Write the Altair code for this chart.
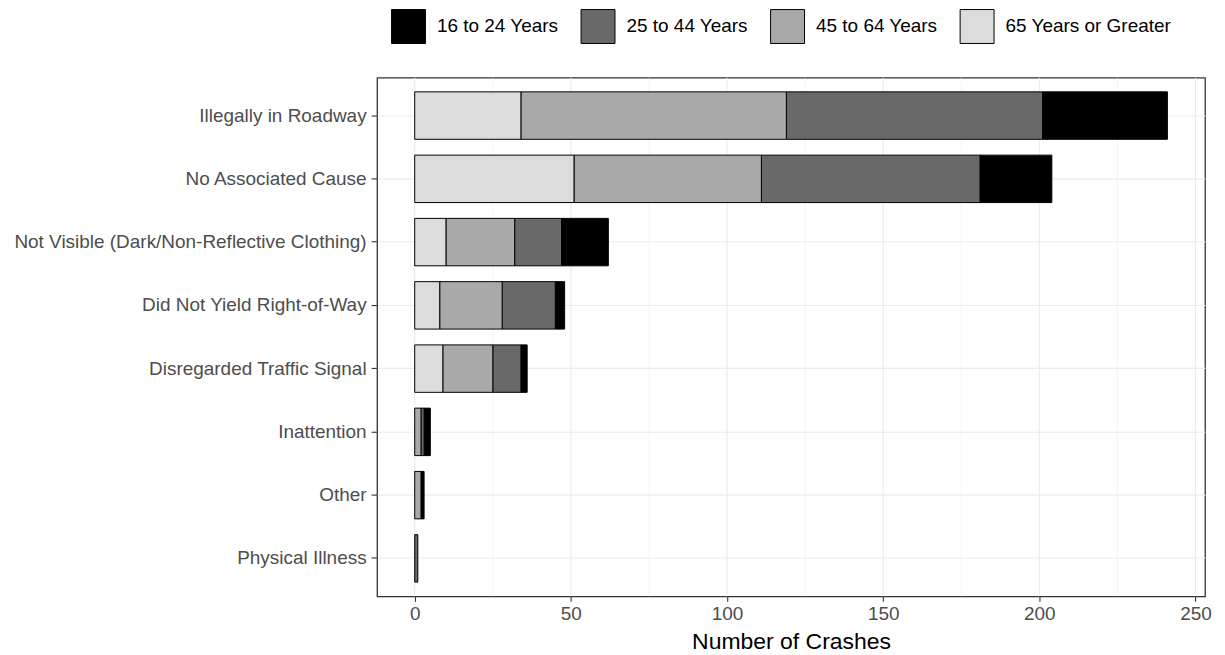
import altair as alt
import pandas as pd

causes = [
    "Illegally in Roadway",
    "No Associated Cause",
    "Not Visible (Dark/Non-Reflective Clothing)",
    "Did Not Yield Right-of-Way",
    "Disregarded Traffic Signal",
    "Inattention",
    "Other",
    "Physical Illness",
]
age_groups = ["16 to 24 Years", "25 to 44 Years", "45 to 64 Years", "65 Years or Greater"]
age_colors = ["#000000", "#696969", "#a9a9a9", "#dcdcdc"]

age_16_24 = [40, 23, 15, 3, 2, 2, 1, 0]
age_25_44 = [82, 70, 15, 17, 9, 1, 0, 1]
age_45_64 = [85, 60, 22, 20, 16, 2, 2, 0]
age_65_up = [34, 51, 10, 8, 9, 0, 0, 0]

major_ticks = [0, 50, 100, 150, 200, 250]
minor_ticks = [25, 75, 125, 175, 225]

series = {
    "16 to 24 Years": age_16_24,
    "25 to 44 Years": age_25_44,
    "45 to 64 Years": age_45_64,
    "65 Years or Greater": age_65_up,
}
stack_rank = {"65 Years or Greater": 0, "45 to 64 Years": 1, "25 to 44 Years": 2, "16 to 24 Years": 3}

rows = []
for age, vals in series.items():
    for c, v in zip(causes, vals):
        if v > 0:
            rows.append({"Cause": c, "Age": age, "Count": v, "rank": stack_rank[age]})
df = pd.DataFrame(rows)

totals = [a + b + c + d for a, b, c, d in zip(age_16_24, age_25_44, age_45_64, age_65_up)]
tmax = max(totals)
xscale = alt.Scale(domain=[-0.05 * tmax, 1.05 * tmax], nice=False, zero=False)

W, H = 830, 520

xaxis = alt.Axis(
    title="Number of Crashes",
    values=major_ticks,
    grid=False,
    domain=False,
    tickSize=5,
    tickColor="#333333",
    tickWidth=1.1,
    labelFontSize=19,
    labelColor="#4d4d4d",
    labelPadding=3,
    titleFontSize=23,
    titleFontWeight="normal",
    titleColor="#000000",
    titlePadding=7,
)

major_df = pd.DataFrame({"Count": major_ticks})
minor_df = pd.DataFrame({"Count": minor_ticks})

major_grid = alt.Chart(major_df).mark_rule(color="#ebebeb", strokeWidth=1.1).encode(
    x=alt.X("Count:Q", scale=xscale, axis=xaxis),
    y=alt.value(0),
    y2=alt.value(H),
)
minor_grid = alt.Chart(minor_df).mark_rule(color="#ebebeb", strokeWidth=0.55).encode(
    x=alt.X("Count:Q", scale=xscale, axis=xaxis),
    y=alt.value(0),
    y2=alt.value(H),
)

bars = alt.Chart(df).mark_bar(stroke="black", strokeWidth=1).encode(
    y=alt.Y(
        "Cause:N",
        sort=causes,
        scale=alt.Scale(paddingInner=0.25, paddingOuter=0.225),
        axis=alt.Axis(
            title=None,
            bandPosition=0.5,
            grid=True,
            gridColor="#ebebeb",
            gridWidth=1.1,
            domain=False,
            ticks=True,
            tickSize=6,
            tickColor="#333333",
            tickWidth=1.1,
            labelFontSize=19,
            labelColor="#4d4d4d",
            labelPadding=5,
            labelLimit=500,
        ),
    ),
    x=alt.X("Count:Q", stack="zero", scale=xscale, axis=xaxis),
    color=alt.Color(
        "Age:N",
        scale=alt.Scale(domain=age_groups, range=age_colors),
        legend=alt.Legend(
            title=None,
            orient="none",
            legendX=14,
            legendY=-69,
            direction="horizontal",
            columns=4,
            symbolType="square",
            symbolSize=1156,
            symbolStrokeColor="black",
            symbolStrokeWidth=1,
            symbolOpacity=1,
            labelFontSize=19,
            labelColor="#000000",
            labelOffset=11,
            labelLimit=400,
            columnPadding=20,
            padding=0,
        ),
    ),
    order=alt.Order("rank:Q", sort="ascending"),
)

chart = (
    alt.layer(major_grid, minor_grid, bars)
    .properties(width=W, height=H, padding={"left": 5, "top": 0, "right": 5, "bottom": 5})
    .configure(font="Liberation Sans")
    .configure_view(stroke="#333333", strokeWidth=1.3)
)

chart.save("out.html", embed_options={"renderer": "svg", "actions": False})
